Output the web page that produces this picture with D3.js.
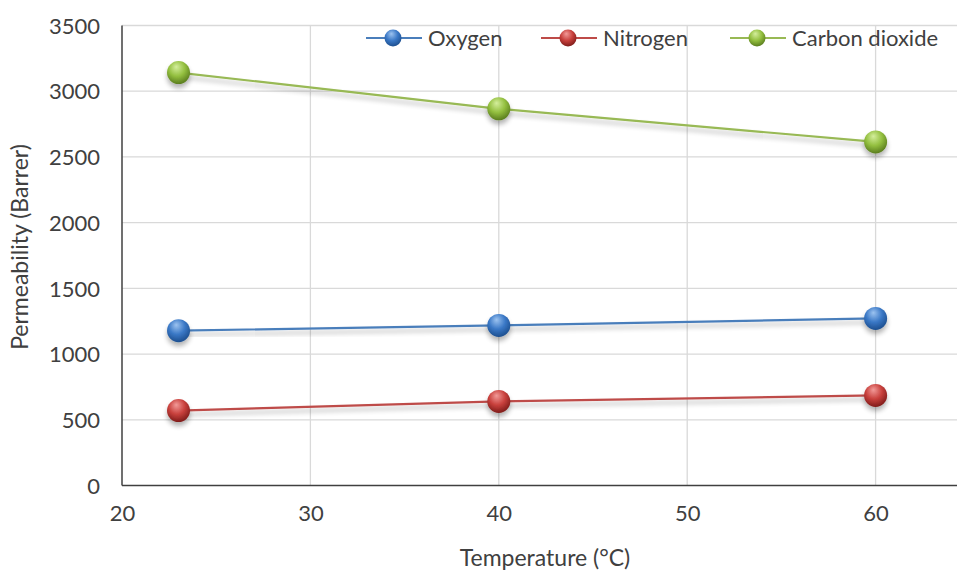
<!DOCTYPE html>
<html>
<head>
<meta charset="utf-8">
<script src="https://cdn.jsdelivr.net/npm/d3@7"></script>
<style>
  body { margin: 0; background: #fff; }
  text { font-family: Lato, "Open Sans", sans-serif; fill: #404040; }
</style>
</head>
<body>
<div id="chart"></div>
<script>
// data
const temps = [23, 40, 60];
const oxygen = [1178, 1218, 1271];
const nitrogen = [570, 640, 685];
const co2 = [3142, 2866, 2614];
const seriesNames = ['Oxygen', 'Nitrogen', 'Carbon dioxide'];
const xTicks = [20, 30, 40, 50, 60];
const yTicks = [0, 500, 1000, 1500, 2000, 2500, 3000, 3500];

const svgWidth = 957;
const svgHeight = 572;

const margin = { top: 25.5, right: 0, bottom: 86.5, left: 122 };
const chartWidth = svgWidth - margin.left - margin.right;
const chartHeight = svgHeight - margin.top - margin.bottom;

const colors = ['#4a7ebb', '#be4b48', '#98b954'];
const ballColors = [
    ['#9cc3f0', '#3a78c6', '#1d4f8f'],
    ['#f29a98', '#c8403c', '#7f1c1a'],
    ['#d4ee9c', '#93bf3f', '#5a7d1e']
];

const svg = d3.select('#chart').append('svg')
    .attr('width', svgWidth)
    .attr('height', svgHeight);

const defs = svg.append('defs');

// soft shadow under lines and balls
const shadow = defs.append('filter')
    .attr('id', 'shadow')
    .attr('x', '-20%').attr('y', '-50%')
    .attr('width', '140%').attr('height', '200%');
shadow.append('feGaussianBlur').attr('in', 'SourceAlpha').attr('stdDeviation', 2.5);
shadow.append('feOffset').attr('dx', 0).attr('dy', 4).attr('result', 'blur');
shadow.append('feComponentTransfer').append('feFuncA').attr('type', 'linear').attr('slope', 0.3);
const merge = shadow.append('feMerge');
merge.append('feMergeNode');
merge.append('feMergeNode').attr('in', 'SourceGraphic');

ballColors.forEach((c, i) => {
    const g = defs.append('radialGradient')
        .attr('id', 'ball' + i)
        .attr('cx', '45%').attr('cy', '35%').attr('r', '65%')
        .attr('fx', '40%').attr('fy', '25%');
    g.append('stop').attr('offset', '0%').attr('stop-color', c[0]);
    g.append('stop').attr('offset', '55%').attr('stop-color', c[1]);
    g.append('stop').attr('offset', '100%').attr('stop-color', c[2]);
});

const chartGroup = svg.append('g')
    .attr('transform', `translate(${margin.left}, ${margin.top})`);

const xScale = d3.scaleLinear()
    .domain([20, 60])
    .range([0, 753.6]);

const yScale = d3.scaleLinear()
    .domain([0, 3500])
    .range([chartHeight, 0]);

// gridlines
chartGroup.append('g')
    .selectAll('line.h')
    .data(yTicks.filter(d => d > 0))
    .join('line')
    .attr('x1', 0).attr('x2', chartWidth)
    .attr('y1', d => yScale(d)).attr('y2', d => yScale(d))
    .attr('stroke', '#d9d9d9').attr('stroke-width', 1.3);

chartGroup.append('g')
    .selectAll('line.v')
    .data(xTicks.filter(d => d > 20))
    .join('line')
    .attr('x1', d => xScale(d)).attr('x2', d => xScale(d))
    .attr('y1', 0).attr('y2', chartHeight)
    .attr('stroke', '#d9d9d9').attr('stroke-width', 1.3);

// axes
const xAxis = d3.axisBottom(xScale).tickValues(xTicks).tickSize(0).tickPadding(20).tickFormat(d3.format('d'));
const yAxis = d3.axisLeft(yScale).tickValues(yTicks).tickSize(0).tickPadding(22).tickFormat(d3.format('d'));

const gx = chartGroup.append('g')
    .attr('transform', `translate(0, ${chartHeight})`)
    .call(xAxis);
gx.select('.domain').remove();
gx.selectAll('text').style('font-size', '22px').attr('fill', '#404040');

const gy = chartGroup.append('g').call(yAxis);
gy.select('.domain').remove();
gy.selectAll('text').style('font-size', '22px').attr('fill', '#404040').attr('dy', '0.35em');

chartGroup.append('line')
    .attr('x1', 0).attr('x2', chartWidth)
    .attr('y1', chartHeight).attr('y2', chartHeight)
    .attr('stroke', '#404040').attr('stroke-width', 1.5);
chartGroup.append('line')
    .attr('x1', 0).attr('x2', 0)
    .attr('y1', 0).attr('y2', chartHeight)
    .attr('stroke', '#404040').attr('stroke-width', 1.5);

// series
const allSeries = [oxygen, nitrogen, co2];
const line = d3.line()
    .x((d, i) => xScale(temps[i]))
    .y(d => yScale(d));

allSeries.forEach((vals, s) => {
    chartGroup.append('path')
        .datum(vals)
        .attr('d', line)
        .attr('fill', 'none')
        .attr('stroke', colors[s])
        .attr('stroke-width', 2.2)
        .attr('filter', 'url(#shadow)');
});

allSeries.forEach((vals, s) => {
    chartGroup.append('g')
        .selectAll('circle')
        .data(vals)
        .join('circle')
        .attr('cx', (d, i) => xScale(temps[i]))
        .attr('cy', d => yScale(d))
        .attr('r', 11.5)
        .attr('fill', `url(#ball${s})`)
        .attr('filter', 'url(#shadow)');
});

// legend
const legendX = [366, 541, 730];
const legend = svg.append('g').attr('transform', 'translate(0, 38)');
seriesNames.forEach((name, s) => {
    const lg = legend.append('g').attr('transform', `translate(${legendX[s]}, 0)`);
    lg.append('line')
        .attr('x1', 0).attr('x2', 56)
        .attr('stroke', colors[s]).attr('stroke-width', 2);
    lg.append('circle')
        .attr('cx', 27).attr('r', 8.5)
        .attr('fill', `url(#ball${s})`);
    lg.append('text')
        .attr('x', 62).attr('dy', '0.35em')
        .style('font-size', '22px')
        .attr('fill', '#595959')
        .text(name);
});

// axis titles
svg.append('text')
    .attr('x', 545).attr('y', 566)
    .attr('text-anchor', 'middle')
    .style('font-size', '23px')
    .attr('fill', '#404040')
    .text('Temperature (°C)');

svg.append('text')
    .attr('transform', 'translate(28, 247) rotate(-90)')
    .attr('text-anchor', 'middle')
    .style('font-size', '23px')
    .attr('fill', '#404040')
    .text('Permeability (Barrer)');
</script>
</body>
</html>
